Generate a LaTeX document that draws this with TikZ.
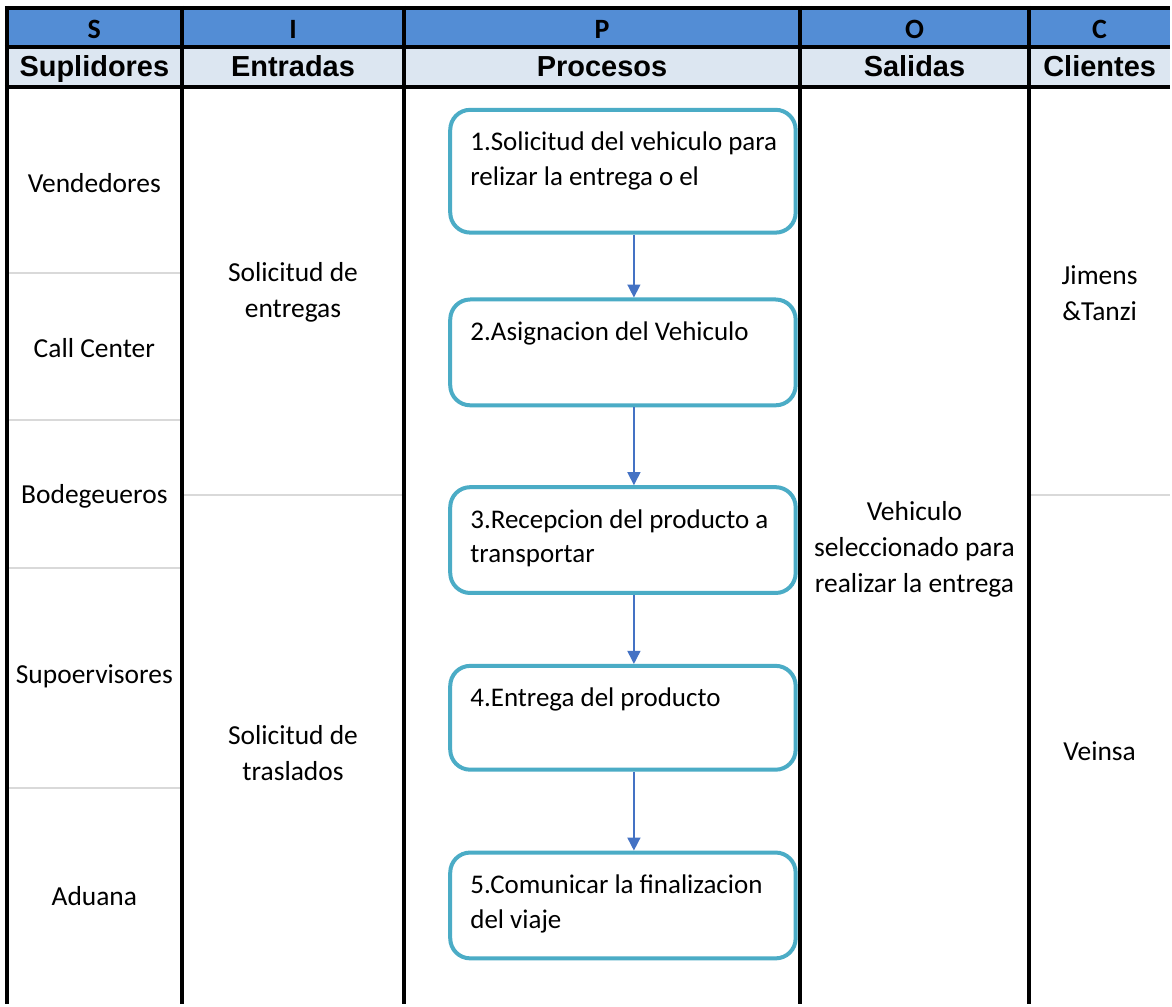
\documentclass[tikz,border=0pt]{standalone}
\usepackage{fontspec}
\setmainfont{Carlito}
\newfontfamily\headfont{Liberation Sans}
\usetikzlibrary{arrows.meta}

\definecolor{hdrblue}{HTML}{538DD5}
\definecolor{hdrlight}{HTML}{DCE6F1}
\definecolor{boxteal}{HTML}{4BACC6}
\definecolor{arrowblue}{HTML}{4472C4}
\definecolor{cellgray}{HTML}{D9D9D9}

\begin{document}
\begin{tikzpicture}[
    x=1pt, y=-1pt,
    sipoc/.style={
        anchor=base,
        font={\bfseries\fontsize{28}{30}\selectfont}
    },
    colname/.style={
        anchor=base,
        font={\headfont\bfseries\fontsize{29}{34}\selectfont}
    },
    cell/.style={
        align=center,
        inner sep=0pt,
        font=\fontsize{27.5}{36}\selectfont
    },
    procbox/.style={
        draw=boxteal,
        fill=white,
        line width=4pt,
        rounded corners=20pt,
        minimum width=346pt,
        minimum height=106pt
    },
    proctext/.style={
        anchor=north west,
        align=left,
        inner sep=0pt,
        font=\fontsize{27}{35}\selectfont
    },
    gridline/.style={line width=4pt},
    cellsep/.style={draw=cellgray, line width=2pt},
    flow/.style={-{Triangle[width=13pt,length=13pt]}, draw=arrowblue, line width=1.5pt}
]

\fill[white] (0,0) rectangle (1172,1006);

% header bands
\fill[hdrblue] (7,8) rectangle (1172,47);
\fill[hdrlight] (7,47) rectangle (1172,87);

% light separators inside the columns
\draw[cellsep] (9,273) -- (180,273);
\draw[cellsep] (9,421) -- (180,421);
\draw[cellsep] (9,569) -- (180,569);
\draw[cellsep] (9,789) -- (180,789);
\draw[cellsep] (184,496) -- (403,496);
\draw[cellsep] (1033,496) -- (1172,496);

% table rules
\draw[gridline] (5,8) -- (1172,8);
\draw[gridline] (5,47) -- (1172,47);
\draw[gridline] (5,87) -- (1172,87);
\draw[gridline] (7,6) -- (7,1006);
\draw[gridline] (182,6) -- (182,1006);
\draw[gridline] (405,6) -- (405,1006);
\draw[gridline] (801,6) -- (801,1006);
\draw[gridline] (1031,6) -- (1031,1006);

\node[sipoc] (hs) at (94.5,39) {S};
\node[sipoc] (hi) at (293.5,39) {I};
\node[sipoc] (hp) at (603,39) {P};
\node[sipoc] (ho) at (916,39) {O};
\node[sipoc] (hc) at (1101.5,39) {C};

\node[colname] (ns) at (94.5,77) {Suplidores};
\node[colname] (ni) at (293.5,77) {Entradas};
\node[colname] (np) at (603,77) {Procesos};
\node[colname] (no) at (916,77) {Salidas};
\node[colname] (nc) at (1101.5,77) {Clientes};

% suplidores
\node[cell] (vend) at (94.5,183) {Vendedores};
\node[cell] (call) at (94.5,349) {Call Center};
\node[cell] (bode) at (94.5,497) {Bodegeueros};
\node[cell] (supo) at (94.5,677) {Supoervisores};
\node[cell] (adua) at (94.5,898) {Aduana};

% entradas
\node[cell] (entreg) at (293.5,293) {Solicitud de\\entregas};
\node[cell] (trasl) at (293.5,754) {Solicitud de\\traslados};

% salidas y clientes
\node[cell] (salida) at (916,550) {Vehiculo\\seleccionado para\\realizar la entrega};
\node[cell] (jimens) at (1101.5,294) {Jimens\\\&Tanzi};
\node[cell] (veinsa) at (1101.5,752) {Veinsa};

% procesos
\node[procbox, minimum height=123pt] (b1) at (624,171.5) {};
\node[procbox] (b2) at (624,353) {};
\node[procbox] (b3) at (624,541) {};
\node[procbox, minimum height=104pt] (b4) at (624,719) {};
\node[procbox] (b5) at (624,907) {};

\node[proctext] (t1) at ([xshift=22pt, yshift=-24pt]b1.north west) {1.Solicitud del vehiculo para\\relizar la entrega o el};
\node[proctext] (t2) at ([xshift=22pt, yshift=-24pt]b2.north west) {2.Asignacion del Vehiculo};
\node[proctext] (t3) at ([xshift=22pt, yshift=-24pt]b3.north west) {3.Recepcion del producto a\\transportar};
\node[proctext] (t4) at ([xshift=22pt, yshift=-24pt]b4.north west) {4.Entrega del producto};
\node[proctext] (t5) at ([xshift=22pt, yshift=-24pt]b5.north west) {5.Comunicar la finalizacion\\del viaje};

\draw[flow] ([xshift=11pt]b1.south) -- ([xshift=11pt]b2.north);
\draw[flow] ([xshift=11pt]b2.south) -- ([xshift=11pt]b3.north);
\draw[flow] ([xshift=11pt]b3.south) -- ([xshift=11pt]b4.north);
\draw[flow] ([xshift=11pt]b4.south) -- ([xshift=11pt]b5.north);

\end{tikzpicture}
\end{document}
